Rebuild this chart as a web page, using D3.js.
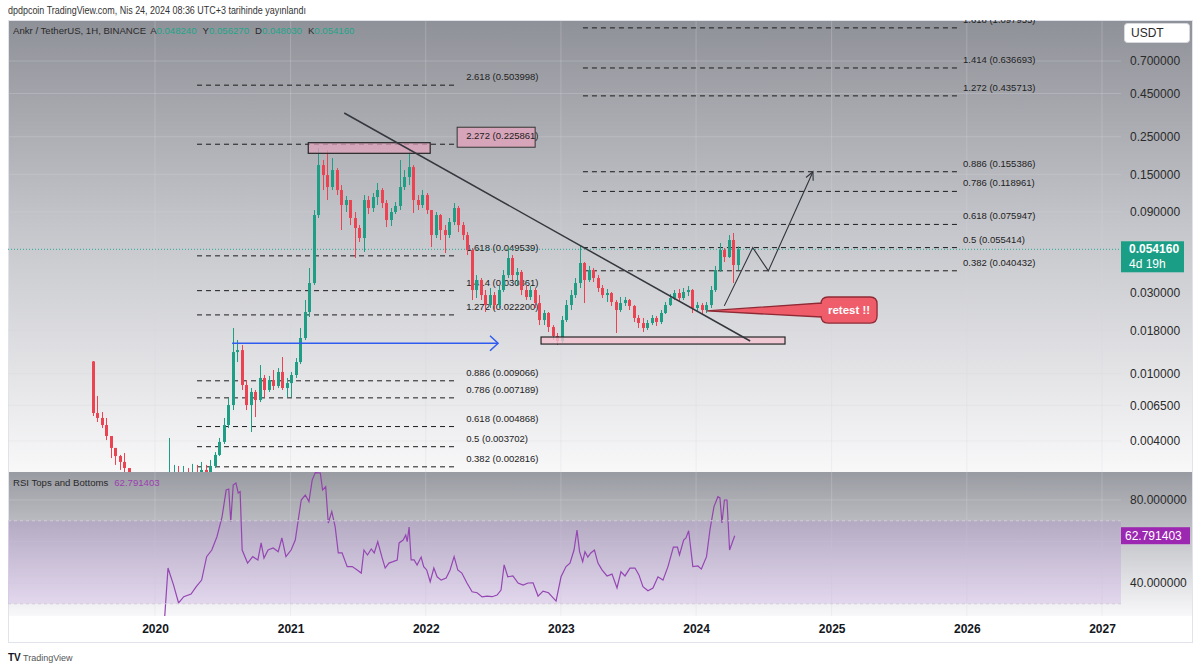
<!DOCTYPE html>
<html><head><meta charset="utf-8">
<script src="https://cdn.jsdelivr.net/npm/d3@7"></script>
<style>body{margin:0;background:#fff;}svg{display:block;}text{font-family:"Liberation Sans",Arial,sans-serif;}</style>
</head><body><svg id="c" width="1200" height="670"></svg>
<script>
// ---------------- DATA ----------------
const candleStart = 2019.54, candleStep = 1/30;   // regular candle timestamps (decimal years)
const firstOpen = 0.0118;
const closes = [0.00585,0.00547,0.00497,0.00428,0.00364,0.00326,0.00301,0.00277,0.00252,0.00220,
0.00206,0.00211,0.00200,0.00217,0.00223,0.00220,0.00184,0.00235,0.00249,0.00242,
0.00255,0.00249,0.00262,0.00255,0.00270,0.00262,0.00285,0.00331,0.00395,0.00497,
0.00652,0.01340,0.01377,0.00856,0.00652,0.00779,0.00698,0.00942,0.00800,0.00916,
0.00845,0.01022,0.00822,0.00879,0.00981,0.01170,0.01622,0.02309,0.03424,0.08627,
0.17018,0.14858,0.12623,0.15908,0.12123,0.09884,0.10582,0.08286,0.07233,0.06313,
0.10582,0.09492,0.11020,0.12123,0.10159,0.08063,0.08990,0.09757,0.12623,0.14460,
0.16562,0.10582,0.09884,0.11323,0.09237,0.06574,0.08627,0.07038,0.06574,0.07847,
0.09492,0.07531,0.06574,0.05363,0.03114,0.03567,0.02908,0.02539,0.02908,0.02539,
0.03114,0.03817,0.04811,0.03817,0.03977,0.03114,0.02831,0.03114,0.02609,0.02071,
0.02278,0.01883,0.01667,0.01557,0.02071,0.02539,0.02908,0.03424,0.04495,0.03567,
0.04087,0.03666,0.03200,0.02908,0.02990,0.02645,0.02373,0.02609,0.02718,0.02506,
0.02129,0.01988,0.01858,0.01988,0.02129,0.02016,0.02278,0.02539,0.02793,0.02990,
0.02793,0.03030,0.03114,0.02438,0.02539,0.02373,0.02539,0.03114,0.04087,0.05363,
0.04875,0.06144,0.04373,0.05416];
const highs = [0.01186,0.00738,0.00593,0.00547,0.00384,0.00364,0.00331,0.00340,0.00270,0.00242,
0.00229,0.00235,0.00223,0.00242,0.00249,0.00242,0.00220,0.00417,0.00289,0.00285,
0.00285,0.00277,0.00293,0.00289,0.00301,0.00289,0.00309,0.00344,0.00417,0.00547,
0.00718,0.01858,0.01578,0.01474,0.00916,0.00822,0.00800,0.01123,0.00981,0.00968,
0.01050,0.01078,0.01252,0.00942,0.01022,0.01235,0.01858,0.02718,0.04200,0.09237,
0.21456,0.18220,0.20880,0.18730,0.16343,0.12970,0.11177,0.10582,0.08990,0.07531,
0.11323,0.11177,0.11638,0.13332,0.12457,0.10582,0.09492,0.10298,0.18220,0.15908,
0.20880,0.17018,0.11323,0.12123,0.11638,0.09237,0.08990,0.08747,0.07531,0.08286,
0.10159,0.09757,0.07847,0.06849,0.05511,0.03817,0.03666,0.03114,0.03200,0.03030,
0.03289,0.04087,0.05585,0.05009,0.04200,0.04087,0.03332,0.03289,0.03200,0.02908,
0.02373,0.02309,0.01934,0.01736,0.02188,0.02718,0.03114,0.03666,0.05738,0.04557,
0.04317,0.04200,0.03817,0.03332,0.03157,0.03030,0.02718,0.02831,0.02831,0.02755,
0.02539,0.02216,0.02129,0.02071,0.02216,0.02188,0.02373,0.02645,0.02949,0.03114,
0.03157,0.03200,0.03289,0.03157,0.02645,0.02609,0.02645,0.03289,0.04317,0.05898,
0.05511,0.06574,0.06756,0.05630];
const lows = [0.00562,0.00518,0.00477,0.00405,0.00317,0.00289,0.00270,0.00235,0.00220,0.00200,
0.00187,0.00192,0.00184,0.00195,0.00200,0.00195,0.00128,0.00184,0.00220,0.00211,
0.00220,0.00223,0.00235,0.00229,0.00242,0.00242,0.00255,0.00277,0.00326,0.00384,
0.00477,0.00609,0.01170,0.00800,0.00609,0.00452,0.00554,0.00679,0.00727,0.00779,
0.00800,0.00822,0.00800,0.00727,0.00727,0.00942,0.01138,0.01578,0.02157,0.03332,
0.08286,0.12123,0.10582,0.12123,0.11323,0.07038,0.08990,0.07531,0.04811,0.05979,
0.05219,0.08747,0.08990,0.09884,0.09492,0.07329,0.07434,0.08747,0.09237,0.12123,
0.12970,0.08868,0.09237,0.09492,0.08747,0.05585,0.06313,0.06144,0.05148,0.06313,
0.07531,0.06849,0.06144,0.05009,0.02718,0.02793,0.02718,0.02309,0.02438,0.02373,
0.02438,0.03030,0.03666,0.03567,0.03332,0.02908,0.02718,0.02718,0.02438,0.01934,
0.01934,0.01760,0.01578,0.01474,0.01515,0.02016,0.02373,0.02793,0.03200,0.02609,
0.03471,0.03471,0.03030,0.02793,0.02645,0.02506,0.01736,0.02309,0.02506,0.02373,
0.02016,0.01858,0.01760,0.01808,0.01934,0.01910,0.01961,0.02247,0.02506,0.02718,
0.02645,0.02718,0.02871,0.02278,0.02309,0.02247,0.02278,0.02438,0.03030,0.03977,
0.04557,0.04811,0.03424,0.04087];

const rsiTime = [2020.072,2020.096,2020.137,2020.174,2020.212,2020.266,2020.303,2020.344,2020.381,2020.419,
2020.457,2020.495,2020.525,2020.544,2020.559,2020.577,2020.597,2020.614,2020.628,2020.643,
2020.683,2020.721,2020.759,2020.783,2020.804,2020.834,2020.872,2020.909,2020.936,2020.966,
2021.004,2021.035,2021.057,2021.079,2021.109,2021.136,2021.160,2021.183,2021.220,2021.237,
2021.260,2021.279,2021.305,2021.330,2021.353,2021.381,2021.419,2021.456,2021.493,2021.523,
2021.543,2021.569,2021.597,2021.619,2021.645,2021.675,2021.700,2021.728,2021.758,2021.789,
2021.803,2021.833,2021.852,2021.863,2021.877,2021.892,2021.914,2021.936,2021.966,2021.985,
2022.007,2022.033,2022.060,2022.084,2022.114,2022.151,2022.180,2022.210,2022.237,2022.267,
2022.305,2022.343,2022.380,2022.417,2022.454,2022.491,2022.528,2022.557,2022.580,2022.607,
2022.645,2022.683,2022.720,2022.757,2022.794,2022.814,2022.831,2022.868,2022.908,2022.934,
2022.964,2023.001,2023.038,2023.067,2023.097,2023.119,2023.138,2023.161,2023.178,2023.199,
2023.221,2023.248,2023.274,2023.304,2023.341,2023.378,2023.415,2023.444,2023.474,2023.511,
2023.548,2023.577,2023.607,2023.644,2023.681,2023.718,2023.755,2023.792,2023.832,2023.862,
2023.877,2023.908,2023.925,2023.945,2023.976,2024.013,2024.039,2024.077,2024.102,2024.132,
2024.161,2024.176,2024.191,2024.209,2024.228,2024.247,2024.285];
const rsiValue = [24.1,47.2,39.0,30.4,33.4,34.7,38.1,41.4,52.7,55.9,
62.3,72.0,84.8,85.3,69.5,87.2,88.2,83.4,84.0,55.9,
49.6,52.7,51.1,59.3,52.0,55.9,56.9,55.1,61.7,52.7,
55.9,60.7,70.4,80.0,82.4,79.2,89.6,93.2,93.0,84.8,
86.4,68.9,74.4,67.1,54.5,54.5,47.9,47.9,46.3,44.8,
55.9,53.5,56.4,54.5,59.9,52.7,47.2,49.6,50.3,51.1,
59.3,60.7,63.1,59.9,67.0,51.1,51.1,48.7,52.5,47.9,
46.3,40.6,47.2,43.0,41.4,42.4,46.3,52.7,46.3,44.8,
40.0,35.8,35.3,33.3,33.7,33.4,34.2,36.6,48.7,43.0,
43.4,40.0,39.0,40.0,40.1,36.6,33.7,36.1,35.3,33.4,
31.3,43.0,47.9,49.6,55.9,65.5,55.1,50.3,55.1,52.5,
54.5,55.9,49.6,46.3,43.4,44.3,37.6,45.4,43.4,47.2,
47.2,43.9,38.2,36.3,37.6,43.0,41.4,47.9,57.3,57.3,
53.5,60.7,61.7,65.2,47.9,48.2,46.7,52.7,65.5,76.8,
81.6,81.0,68.9,80.0,80.0,55.9,62.79];

const priceTicks = [0.7,0.45,0.25,0.15,0.09,0.03,0.018,0.01,0.0065,0.004];
const rsiTicks = [80,40];
const rsiGrid = [80,60,40];
const rsiBand = [70,30];
const yearTicks = [2020,2021,2022,2023,2024,2025,2026,2027];

const fibLeftRatio = ["2.618","2.272","1.618","1.414","1.272","0.886","0.786","0.618","0.5","0.382"];
const fibLeftPrice = [0.503998,0.225861,0.049539,0.030861,0.022200,0.009066,0.007189,0.004868,0.003702,0.002816];
const fibLeftSpan = [2020.310,2022.225];
const fibRightRatio = ["1.618","1.414","1.272","0.886","0.786","0.618","0.5","0.382"];
const fibRightPrice = [1.097955,0.636693,0.435713,0.155386,0.118961,0.075947,0.055414,0.040432];
const fibRightSpan = [2023.163,2025.935];

const lastPrice = 0.05416, lastRsi = 62.791403;
const ohlcKeys = ["A","Y","D","K"];
const ohlcVals = ["0.048240","0.056270","0.048030","0.054160"];

const trendLine = [[2021.397,0.3452],[2024.399,0.01557]];
const resistBox = [[2021.131,0.2306],[2022.033,0.1996]];
const supportBox = [[2022.853,0.01644],[2024.656,0.01494]];
const blueArrow = [[2020.569,0.0151],[2022.535,0.0151]];
const projection = [[2024.208,0.0251],[2024.418,0.0554],[2024.533,0.0404],[2024.862,0.1554]];
const retestTip = [2024.078,0.02343];
const retestBox = [[2024.922,0.02831],[2025.336,0.01988]];

// ---------------- LAYOUT ----------------
const L=8, R=1121, AX=1193, PT=20, PB=472, RT=472, RB=616, XB=643;
function fromDec(t){const y=Math.floor(t);const a=Date.UTC(y,0,1),b=Date.UTC(y+1,0,1);return new Date(a+(t-y)*(b-a));}
const x = d3.scaleUtc().domain([fromDec(2020),fromDec(2027)]).range([155,1102]);
const y = d3.scaleLog().domain([0.7,0.004]).range([61,441]);
const yr = d3.scaleLinear().domain([80,40]).range([500,583]);
const X = t=>x(fromDec(t));

const svg = d3.select("#c");
const defs = svg.append("defs");
function grad(id,stops){const g=defs.append("linearGradient").attr("id",id).attr("x1",0).attr("y1",0).attr("x2",0).attr("y2",1);
  stops.forEach(s=>g.append("stop").attr("offset",s[0]).attr("stop-color",s[1]));}
grad("gp",[[0,"#8f9198"],[0.45,"#c4c5ca"],[1,"#f8f8f9"]]);
grad("gr",[[0,"#999ba2"],[1,"#f8f8fa"]]);
defs.append("clipPath").attr("id","cp").append("rect").attr("x",L).attr("y",PT).attr("width",R-L).attr("height",PB-PT);
defs.append("clipPath").attr("id","cr").append("rect").attr("x",L).attr("y",RT).attr("width",R-L).attr("height",RB-RT);

// header
svg.append("text").attr("x",8).attr("y",14).attr("font-size",10).attr("fill","#333")
  .attr("textLength",298).attr("lengthAdjust","spacingAndGlyphs")
  .text("dpdpcoin TradingView.com, Nis 24, 2024 08:36 UTC+3 tarihinde yayınlandı");

// backgrounds
svg.append("rect").attr("x",L).attr("y",PT).attr("width",AX-L).attr("height",PB-PT).attr("fill","url(#gp)");
svg.append("rect").attr("x",L).attr("y",RT).attr("width",AX-L).attr("height",RB-RT).attr("fill","url(#gr)");
svg.append("rect").attr("x",L).attr("y",RB).attr("width",AX-L).attr("height",XB-RB).attr("fill","#fff");
svg.append("rect").attr("x",L+0.5).attr("y",PT+0.5).attr("width",AX-L-1).attr("height",XB-PT-1)
  .attr("fill","none").attr("stroke","#e0e3eb");

// grid
const grid = svg.append("g").attr("stroke","#d4d5da").attr("stroke-opacity",0.3);
yearTicks.forEach(yy=>grid.append("line").attr("x1",X(yy)).attr("x2",X(yy)).attr("y1",PT).attr("y2",RB));
priceTicks.forEach(p=>grid.append("line").attr("x1",L).attr("x2",R).attr("y1",y(p)).attr("y2",y(p)));
rsiGrid.forEach(v=>grid.append("line").attr("x1",L).attr("x2",R).attr("y1",yr(v)).attr("y2",yr(v)));

// ---------------- PRICE PANE ----------------
const pp = svg.append("g").attr("clip-path","url(#cp)");
function fibGroup(ratios,prices,span,dx,boxed){
  const g = pp.append("g");
  prices.forEach((p,i)=>{
    g.append("line").attr("x1",X(span[0])).attr("x2",X(span[1])).attr("y1",y(p)).attr("y2",y(p))
      .attr("stroke","#1c1c1c").attr("stroke-dasharray","5,4").attr("stroke-width",1);
    const label = `${ratios[i]} (${p.toFixed(6)})`;
    if(boxed===ratios[i]){
      g.append("rect").attr("x",X(span[1])+1).attr("y",y(p)-17).attr("width",78).attr("height",20)
        .attr("fill","#d7a5b9").attr("stroke","#333").attr("stroke-width",1);
    }
    g.append("text").attr("x",X(span[1])+dx).attr("y",y(p)-5).attr("font-size",9.5).attr("fill","#222").text(label);
  });
}
fibGroup(fibLeftRatio,fibLeftPrice,fibLeftSpan,10,"2.272");
fibGroup(fibRightRatio,fibRightPrice,fibRightSpan,5,null);

// current price dotted line
pp.append("line").attr("x1",L).attr("x2",R).attr("y1",y(lastPrice)).attr("y2",y(lastPrice))
  .attr("stroke","#26a69a").attr("stroke-dasharray","1,2").attr("stroke-width",1);

// candles
const candles = closes.map((c,i)=>({t:candleStart+i*candleStep,o:i===0?firstOpen:closes[i-1],h:highs[i],l:lows[i],c}));
const cg = pp.append("g");
candles.forEach(d=>{
  const up = d.c>=d.o, col = up?"#1f9e86":"#ec4352";
  const cx = Math.round(X(d.t))+0.5;
  cg.append("line").attr("x1",cx).attr("x2",cx).attr("y1",y(d.h)).attr("y2",y(d.l)).attr("stroke",col).attr("stroke-width",1);
  const y0=y(Math.max(d.o,d.c)), y1=y(Math.min(d.o,d.c));
  cg.append("rect").attr("x",cx-1.5).attr("y",y0).attr("width",3).attr("height",Math.max(1,y1-y0)).attr("fill",col);
});

// boxes
pp.append("rect").attr("x",X(resistBox[0][0])).attr("y",y(resistBox[0][1]))
  .attr("width",X(resistBox[1][0])-X(resistBox[0][0])).attr("height",y(resistBox[1][1])-y(resistBox[0][1]))
  .attr("fill","#e0a3bb").attr("fill-opacity",0.75).attr("stroke","#262626").attr("stroke-width",1.2);
pp.append("rect").attr("x",X(supportBox[0][0])).attr("y",y(supportBox[0][1]))
  .attr("width",X(supportBox[1][0])-X(supportBox[0][0])).attr("height",y(supportBox[1][1])-y(supportBox[0][1]))
  .attr("fill","#f4c3d1").attr("fill-opacity",0.8).attr("stroke","#262626").attr("stroke-width",1.2);

// trend line
pp.append("line").attr("x1",X(trendLine[0][0])).attr("y1",y(trendLine[0][1]))
  .attr("x2",X(trendLine[1][0])).attr("y2",y(trendLine[1][1])).attr("stroke","#34373e").attr("stroke-width",1.5);

function arrowHead(x1,y1,x2,y2,len,ang){
  const a=Math.atan2(y2-y1,x2-x1);
  const p1=[x2-len*Math.cos(a-ang),y2-len*Math.sin(a-ang)], p2=[x2-len*Math.cos(a+ang),y2-len*Math.sin(a+ang)];
  return `M${p1[0]},${p1[1]}L${x2},${y2}L${p2[0]},${p2[1]}`;
}
// blue arrow
const bx1=X(blueArrow[0][0]), bx2=X(blueArrow[1][0]), by=y(blueArrow[0][1]);
pp.append("line").attr("x1",bx1).attr("x2",bx2).attr("y1",by).attr("y2",by).attr("stroke","#2f5cf0").attr("stroke-width",1.5);
pp.append("path").attr("d",arrowHead(bx1,by,bx2,by,11,0.75)).attr("fill","none").attr("stroke","#2f5cf0").attr("stroke-width",1.5);

// projection path
const pj = projection.map(d=>[X(d[0]),y(d[1])]);
pp.append("path").attr("d",d3.line()(pj)).attr("fill","none").attr("stroke","#30343c").attr("stroke-width",1.1);
const n=pj.length;
pp.append("path").attr("d",arrowHead(pj[n-2][0],pj[n-2][1],pj[n-1][0],pj[n-1][1],9,0.45)).attr("fill","none").attr("stroke","#30343c").attr("stroke-width",1.1);

// retest callout
{
  const tx=X(retestTip[0]), ty=y(retestTip[1]);
  const x0=X(retestBox[0][0]), x1=X(retestBox[1][0]), y0=y(retestBox[0][1]), y1=y(retestBox[1][1]);
  const r=7, my=(y0+y1)/2;
  const dpath=`M${tx},${ty} L${x0},${my-7} L${x0},${y0+r} Q${x0},${y0} ${x0+r},${y0} L${x1-r},${y0} Q${x1},${y0} ${x1},${y0+r} L${x1},${y1-r} Q${x1},${y1} ${x1-r},${y1} L${x0+r},${y1} Q${x0},${y1} ${x0},${y1-r} L${x0},${my+7} Z`;
  pp.append("path").attr("d",dpath).attr("fill","#ef5d6b").attr("stroke","#8f2a35").attr("stroke-width",1.3);
  pp.append("text").attr("x",(x0+x1)/2).attr("y",my+4).attr("text-anchor","middle").attr("font-size",11.5)
    .attr("font-weight","bold").attr("fill","#fff").text("retest !!");
}

// legend
const lg = svg.append("text").attr("x",13).attr("y",34).attr("font-size",9.6).attr("fill","#2a2a2a");
lg.append("tspan").text("Ankr / TetherUS, 1H, BINANCE");
ohlcKeys.forEach((k,i)=>{lg.append("tspan").attr("dx",i===0?4:6).text(k);lg.append("tspan").attr("fill","#1ea48a").text(ohlcVals[i]);});

// ---------------- RSI PANE ----------------
const rp = svg.append("g").attr("clip-path","url(#cr)");
svg.append("rect").attr("x",L).attr("y",yr(rsiBand[0])).attr("width",R-L).attr("height",yr(rsiBand[1])-yr(rsiBand[0]))
  .attr("fill","#9c5ad2").attr("fill-opacity",0.16);
rsiBand.forEach(v=>svg.append("line").attr("x1",L).attr("x2",R).attr("y1",yr(v)).attr("y2",yr(v))
  .attr("stroke","#d2cad8").attr("stroke-dasharray","3,3"));
const rsiPts = rsiTime.map((t,i)=>[X(t),yr(rsiValue[i])]);
rp.append("path").attr("d",d3.line()(rsiPts)).attr("fill","none").attr("stroke","#9443ad").attr("stroke-width",1.2);
const rl = svg.append("text").attr("x",13).attr("y",486).attr("font-size",9.6).attr("fill","#2a2a2a");
rl.append("tspan").text("RSI Tops and Bottoms");
rl.append("tspan").attr("dx",6).attr("fill","#9c3fb0").text(lastRsi.toFixed(6));

// ---------------- AXES ----------------
const fmt6 = d3.format(".6f");
const ay = svg.append("g").attr("transform",`translate(1130,0)`)
  .call(d3.axisRight(y).tickValues(priceTicks).tickFormat(fmt6).tickSize(0).tickPadding(0));
const ayr = svg.append("g").attr("transform",`translate(1130,0)`)
  .call(d3.axisRight(yr).tickValues(rsiTicks).tickFormat(fmt6).tickSize(0).tickPadding(0));
const ax = svg.append("g").attr("transform",`translate(0,624)`)
  .call(d3.axisBottom(x).tickValues(yearTicks.map(fromDec)).tickFormat(d3.utcFormat("%Y")).tickSize(0).tickPadding(0));
[ay,ayr,ax].forEach(g=>{g.select(".domain").remove();g.selectAll("text").attr("fill","#2a2a2a").attr("font-size",12)
  .attr("font-family","Liberation Sans, Arial, sans-serif");});
ax.selectAll("text").attr("font-weight","bold").attr("fill","#131722");

// USDT box
svg.append("rect").attr("x",1124.5).attr("y",23.5).attr("width",65).attr("height",19).attr("rx",3)
  .attr("fill","#fff").attr("stroke","#d8d9de");
svg.append("text").attr("x",1131).attr("y",37).attr("font-size",12).attr("fill","#2a2a2a").text("USDT");

// last price / rsi boxes
{
  const ly=y(lastPrice);
  svg.append("rect").attr("x",1121).attr("y",ly-8).attr("width",63).attr("height",31).attr("fill","#1a9e86");
  svg.append("text").attr("x",1129).attr("y",ly+4).attr("font-size",12).attr("font-weight","bold").attr("fill","#fff").text(fmt6(lastPrice));
  svg.append("text").attr("x",1129).attr("y",ly+19).attr("font-size",12).attr("fill","#fff").text("4d 19h");
  const ry=yr(lastRsi);
  svg.append("rect").attr("x",1121).attr("y",ry-8.5).attr("width",69).attr("height",17).attr("fill","#9c27b0");
  svg.append("text").attr("x",1125).attr("y",ry+4.5).attr("font-size",12).attr("fill","#fff").text(lastRsi.toFixed(6));
}

// logo
svg.append("text").attr("x",8).attr("y",661).attr("font-size",10).attr("font-weight","bold").attr("fill","#131722").text("TV");
svg.append("text").attr("x",23).attr("y",661).attr("font-size",9).attr("fill","#555").text("TradingView");
</script></body></html>
